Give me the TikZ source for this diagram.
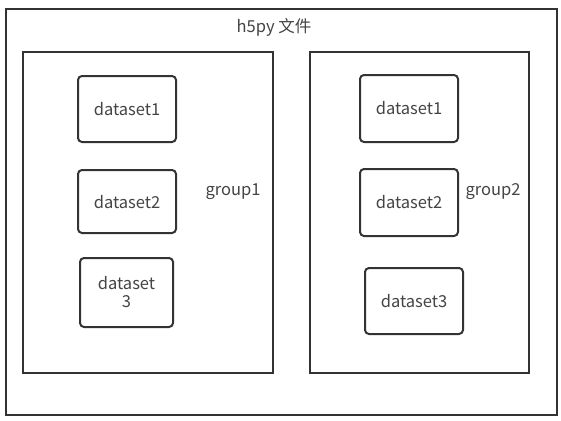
\documentclass[tikz,border=0pt]{standalone}
\usepackage{fontspec}
\setmainfont{Noto Sans CJK SC}
\definecolor{ink}{HTML}{333333}
\definecolor{txt}{HTML}{444444}
\begin{document}
\begin{tikzpicture}[x=1pt,y=-1pt,
  frame/.style={draw=ink,line width=2pt},
  dsbox/.style={draw=ink,line width=2pt,rounded corners=4pt},
  lbl/.style={text=txt,font=\fontsize{16.5}{18}\selectfont,align=center,inner sep=0pt}]
\useasboundingbox (0,0) rectangle (561,420);
\draw[frame] (6,9) rectangle (557,415);
\node[lbl] (title) at (274,27) {h5py 文件};
\draw[frame] (23,52) rectangle (273,373);
\draw[frame] (310,52) rectangle (529,373);
\draw[dsbox] (78,76) rectangle (176,142);
\node[lbl] (l1) at (127,109) {dataset1};
\draw[dsbox] (78,170) rectangle (176,233);
\node[lbl] (l2) at (127,202) {dataset2};
\draw[dsbox] (80,258) rectangle (173,327);
\node[lbl] (l3) at (126.5,292) {dataset\\3};
\node[lbl] (g1) at (233,192) {group1};
\draw[dsbox] (360,75) rectangle (458,142);
\node[lbl] (r1) at (409,108) {dataset1};
\draw[dsbox] (360,169) rectangle (458,236);
\node[lbl] (r2) at (409,202) {dataset2};
\draw[dsbox] (365,268) rectangle (463,334);
\node[lbl] (r3) at (414,301) {dataset3};
\node[lbl] (g2) at (493,192) {group2};
\end{tikzpicture}
\end{document}
